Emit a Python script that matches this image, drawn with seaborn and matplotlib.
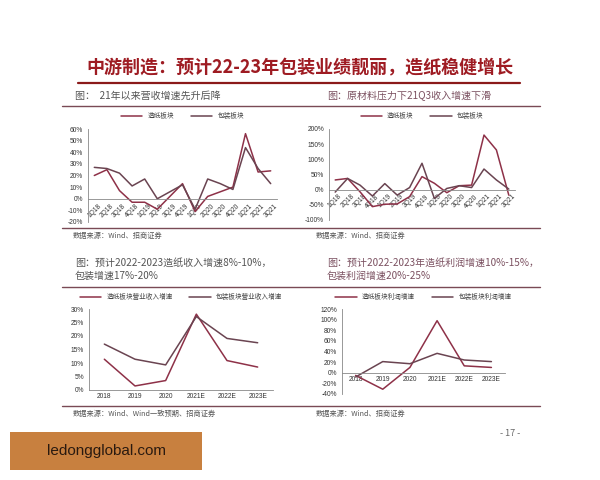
import pandas as pd
import matplotlib.pyplot as plt
import seaborn as sns
from matplotlib.lines import Line2D
from matplotlib.patches import Rectangle
from matplotlib.ticker import FuncFormatter

# quarterly revenue growth (%)
quarters = ['1Q18', '2Q18', '3Q18', '4Q18', '1Q19', '2Q19', '3Q19', '4Q19',
            '1Q20', '2Q20', '3Q20', '4Q20', '1Q21', '2Q21', '3Q21']
rev_paper = [20, 25, 7, -3, -3, -9, 2, 13, -11, 2, 6, 10, 56, 23, 24]
rev_pack = [27, 26, 22, 11, 17, 0, 6, 12, -9, 17, 13, 8, 44, 26, 13]

# quarterly profit growth (%)
prof_paper = [32, 37, -7, -56, -48, -47, -23, 43, 21, -10, 13, 15, 180, 131, -18]
prof_pack = [-8, 37, 15, -21, 20, -18, 7, 87, -29, 4, 13, 7, 68, 32, 2]

# annual forecasts (%)
years = ['2018', '2019', '2020', '2021E', '2022E', '2023E']
yr_rev_paper = [11.4, 1.5, 3.5, 28.1, 10.9, 8.5]
yr_rev_pack = [17, 11.4, 9.3, 27.2, 19.1, 17.5]
yr_prof_paper = [-5, -31, 10, 98, 13, 10]
yr_prof_pack = [-8, 21, 17, 36.5, 24, 21]

RED = '#8e3148'
DARK = '#6a4451'
RULE = '#7a4a55'
GREY = '#555555'

sns.set_style('white')
plt.rcParams['font.family'] = ['Noto Sans CJK SC', 'DejaVu Sans']

fig = plt.figure(figsize=(6, 4.8), dpi=100)
W, H = 600, 480


def px_axes(x0, y0, x1, y1):
    return fig.add_axes([x0 / W, 1 - y1 / H, (x1 - x0) / W, (y1 - y0) / H])


def hline(x0, x1, y, color=RULE, lw=1.0):
    fig.add_artist(Line2D([x0 / W, x1 / W], [1 - y / H, 1 - y / H], color=color, lw=lw))


def ftext(x, y, s, **kw):
    fig.text(x / W, 1 - y / H, s, va='center', **kw)


def draw(ax, cats, a, b, labels, ylim, step, rotate, leg_y):
    df = pd.DataFrame({'x': cats * 2, 'y': a + b,
                       's': [labels[0]] * len(cats) + [labels[1]] * len(cats)})
    sns.lineplot(data=df, x='x', y='y', hue='s', palette=[RED, DARK],
                 sort=False, lw=1.1, ax=ax)
    ax.set_xlim(-0.5, len(cats) - 0.5)
    ax.set_ylim(*ylim)
    ax.set_yticks(range(ylim[0], ylim[1] + 1, step))
    ax.yaxis.set_major_formatter(FuncFormatter(lambda v, p: f'{v:.0f}%'))
    ax.set_xlabel('')
    ax.set_ylabel('')
    for s in ['top', 'right']:
        ax.spines[s].set_visible(False)
    ax.spines['bottom'].set_position(('data', 0))
    for s in ['left', 'bottom']:
        ax.spines[s].set_color('#888888')
        ax.spines[s].set_linewidth(0.6)
    ax.tick_params(axis='both', length=2, width=0.5, color='#888888',
                   labelsize=4.8, labelcolor='#333333', pad=1.5)
    ax.tick_params(axis='x', direction='inout')
    for t in ax.get_xticklabels() + ax.get_yticklabels():
        t.set_family(['Liberation Sans', 'DejaVu Sans'])
    if rotate:
        for t in ax.get_xticklabels():
            t.set_rotation(45)
            t.set_ha('center')
    ax.set_facecolor('none')
    ax.legend(loc='center', bbox_to_anchor=(0.5, leg_y), ncol=2, frameon=False,
              fontsize=4.8, handlelength=3.2, columnspacing=2.5,
              labelcolor='#444444')


# main title
ftext(300, 68, '中游制造：预计22-23年包装业绩靓丽，造纸稳健增长', ha='center',
      fontsize=13, fontweight='bold', color='#9e1b22')
hline(78, 520, 83, color='#8b1a1a', lw=1.6)

# panel titles and rules
ftext(75, 96, '图：  21年以来营收增速先升后降', fontsize=7.2, color=GREY)
ftext(327, 96, '图：原材料压力下21Q3收入增速下滑', fontsize=7.2, color='#7b5060')
hline(62, 540, 106)
hline(62, 540, 228)
ftext(73, 236, '数据来源：Wind、招商证券', fontsize=5.2, color=GREY)
ftext(316, 236, '数据来源：Wind、招商证券', fontsize=5.2, color=GREY)

ftext(75, 263, '图：预计2022-2023造纸收入增速8%-10%，', fontsize=7.2, color=GREY)
ftext(75, 276, '包装增速17%-20%', fontsize=7.2, color=GREY)
ftext(327, 263, '图：预计2022-2023年造纸利润增速10%-15%，', fontsize=7.2, color='#7b5060')
ftext(327, 276, '包装利润增速20%-25%', fontsize=7.2, color='#7b5060')
hline(62, 540, 287)
hline(62, 540, 406)
ftext(73, 414, '数据来源：Wind、Wind一致预期、招商证券', fontsize=5.2, color=GREY)
ftext(316, 414, '数据来源：Wind、招商证券', fontsize=5.2, color=GREY)

ax1 = px_axes(88, 129, 277, 222)
draw(ax1, quarters, rev_paper, rev_pack, ['造纸板块', '包装板块'],
     (-20, 60), 10, True, 1.14)

ax2 = px_axes(329, 129, 515, 220)
draw(ax2, quarters, prof_paper, prof_pack, ['造纸板块', '包装板块'],
     (-100, 200), 50, True, 1.14)

ax3 = px_axes(89, 309, 273, 390)
draw(ax3, years, yr_rev_paper, yr_rev_pack, ['造纸板块营业收入增速', '包装板块营业收入增速'],
     (0, 30), 5, False, 1.15)

ax4 = px_axes(342, 309, 505, 394)
draw(ax4, years, yr_prof_paper, yr_prof_pack, ['造纸板块利润增速', '包装板块利润增速'],
     (-40, 120), 20, False, 1.14)

# footer
fig.add_artist(Rectangle((10 / W, 1 - 470 / H), 192 / W, 38 / H,
                         transform=fig.transFigure, color='#c8803f', lw=0))
ftext(106, 451, 'ledongglobal.com', ha='center', fontsize=11,
      color='#2a1a10', family=['Liberation Sans', 'DejaVu Sans'])
ftext(510, 434, '- 17 -', ha='center', fontsize=6.5, color='#666666')

fig.savefig('out.png', dpi=100, facecolor='white')
